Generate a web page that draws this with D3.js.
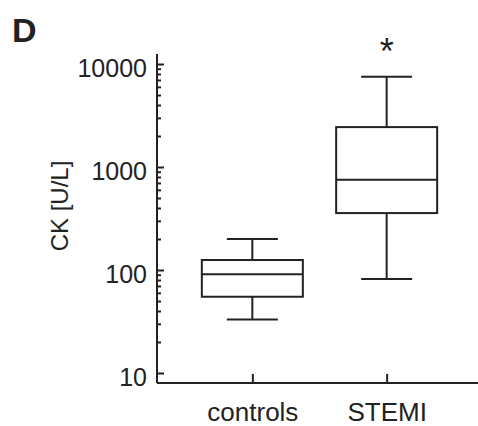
<!DOCTYPE html>
<html>
<head>
<meta charset="utf-8">
<script src="https://cdn.jsdelivr.net/npm/d3@7"></script>
<style>
  body { margin: 0; background: #fff; }
  #chart { width: 478px; height: 426px; }
  text { font-family: "Liberation Sans", Arial, sans-serif; fill: #222; }
</style>
</head>
<body>
<div id="chart"></div>
<script>
var width = 478;
var height = 426;
var margin = {top: 54, left: 157, right: 0, bottom: 43};

// data (CK in U/L)
var groups = ["controls", "STEMI"];
var whiskerLow = [33, 82];
var q1 = [55, 357];
var median = [91, 750];
var q3 = [125, 2440];
var whiskerHigh = [200, 7500];
var significant = [false, true];

var majorTicks = [10, 100, 1000, 10000];
var minorTicks = [];
majorTicks.slice(0, 3).forEach(function(p) {
    for (var m = 2; m <= 9; m++) minorTicks.push(p * m);
});

var svg = d3.select("#chart")
    .append("svg")
    .attr("width", width)
    .attr("height", height);

var yScale = d3.scaleLog()
    .domain([10, 10000])
    .range([373, 64]);

var xScale = d3.scalePoint()
    .domain(groups)
    .range([margin.left + 4, width - margin.right])
    .padding(0.68);

// y axis line
svg.append("line")
    .attr("x1", margin.left).attr("x2", margin.left)
    .attr("y1", margin.top).attr("y2", height - margin.bottom)
    .attr("stroke", "#222")
    .attr("stroke-width", 2);

// minor ticks
var yMinor = svg.append("g")
    .attr("transform", `translate(${margin.left},0)`)
    .call(d3.axisLeft(yScale).tickValues(minorTicks).tickSize(-4).tickFormat(""));

// major ticks + labels
var yAxis = svg.append("g")
    .attr("transform", `translate(${margin.left},0)`)
    .call(d3.axisLeft(yScale).tickValues(majorTicks).tickSize(-7).tickPadding(10).tickFormat(d3.format("d")));

[yMinor, yAxis].forEach(function(g) {
    g.select(".domain").remove();
    g.selectAll(".tick line").attr("stroke", "#222").attr("stroke-width", 2);
});
yAxis.selectAll("text")
    .attr("dy", "0.5em")
    .style("font-size", "25px")
    .style("font-family", "'Liberation Sans', Arial, sans-serif")
    .attr("fill", "#222");

// x axis
var xAxis = svg.append("g")
    .attr("transform", `translate(0,${height - margin.bottom})`)
    .call(d3.axisBottom(xScale).tickSize(-9).tickSizeOuter(0).tickPadding(20));
xAxis.select(".domain")
    .attr("d", `M${margin.left},0H${width}`)
    .attr("stroke", "#222")
    .attr("stroke-width", 2);
xAxis.selectAll(".tick line").attr("stroke", "#222").attr("stroke-width", 2);
xAxis.selectAll("text")
    .style("font-size", "26px")
    .style("font-family", "'Liberation Sans', Arial, sans-serif")
    .attr("fill", "#222");

// boxes
var boxWidth = 101;
var capWidth = 51;

var box = svg.selectAll(".box")
    .data(groups)
    .enter()
    .append("g")
    .attr("class", "box")
    .attr("fill", "none")
    .attr("stroke", "#222")
    .attr("stroke-width", 2);

// whiskers
box.append("line")
    .attr("x1", function(d) { return xScale(d); })
    .attr("x2", function(d) { return xScale(d); })
    .attr("y1", function(d, i) { return yScale(whiskerHigh[i]); })
    .attr("y2", function(d, i) { return yScale(q3[i]); });
box.append("line")
    .attr("x1", function(d) { return xScale(d); })
    .attr("x2", function(d) { return xScale(d); })
    .attr("y1", function(d, i) { return yScale(q1[i]); })
    .attr("y2", function(d, i) { return yScale(whiskerLow[i]); });
// caps
box.append("line")
    .attr("x1", function(d) { return xScale(d) - capWidth / 2; })
    .attr("x2", function(d) { return xScale(d) + capWidth / 2; })
    .attr("y1", function(d, i) { return yScale(whiskerHigh[i]); })
    .attr("y2", function(d, i) { return yScale(whiskerHigh[i]); });
box.append("line")
    .attr("x1", function(d) { return xScale(d) - capWidth / 2; })
    .attr("x2", function(d) { return xScale(d) + capWidth / 2; })
    .attr("y1", function(d, i) { return yScale(whiskerLow[i]); })
    .attr("y2", function(d, i) { return yScale(whiskerLow[i]); });
// box
box.append("rect")
    .attr("x", function(d) { return xScale(d) - boxWidth / 2; })
    .attr("y", function(d, i) { return yScale(q3[i]); })
    .attr("width", boxWidth)
    .attr("height", function(d, i) { return yScale(q1[i]) - yScale(q3[i]); });
// median
box.append("line")
    .attr("x1", function(d) { return xScale(d) - boxWidth / 2; })
    .attr("x2", function(d) { return xScale(d) + boxWidth / 2; })
    .attr("y1", function(d, i) { return yScale(median[i]); })
    .attr("y2", function(d, i) { return yScale(median[i]); });

// significance star
svg.selectAll(".star")
    .data(groups.filter(function(d, i) { return significant[i]; }))
    .enter()
    .append("text")
    .attr("class", "star")
    .attr("x", function(d) { return xScale(d); })
    .attr("y", 64)
    .attr("text-anchor", "middle")
    .style("font-size", "36px")
    .text("*");

// axis label
svg.append("text")
    .attr("transform", "rotate(-90)")
    .attr("x", -206)
    .attr("y", 68)
    .attr("text-anchor", "middle")
    .style("font-size", "24px")
    .text("CK [U/L]");

// panel letter
svg.append("text")
    .attr("x", 12)
    .attr("y", 42)
    .style("font-size", "34px")
    .style("font-weight", "bold")
    .text("D");
</script>
</body>
</html>
